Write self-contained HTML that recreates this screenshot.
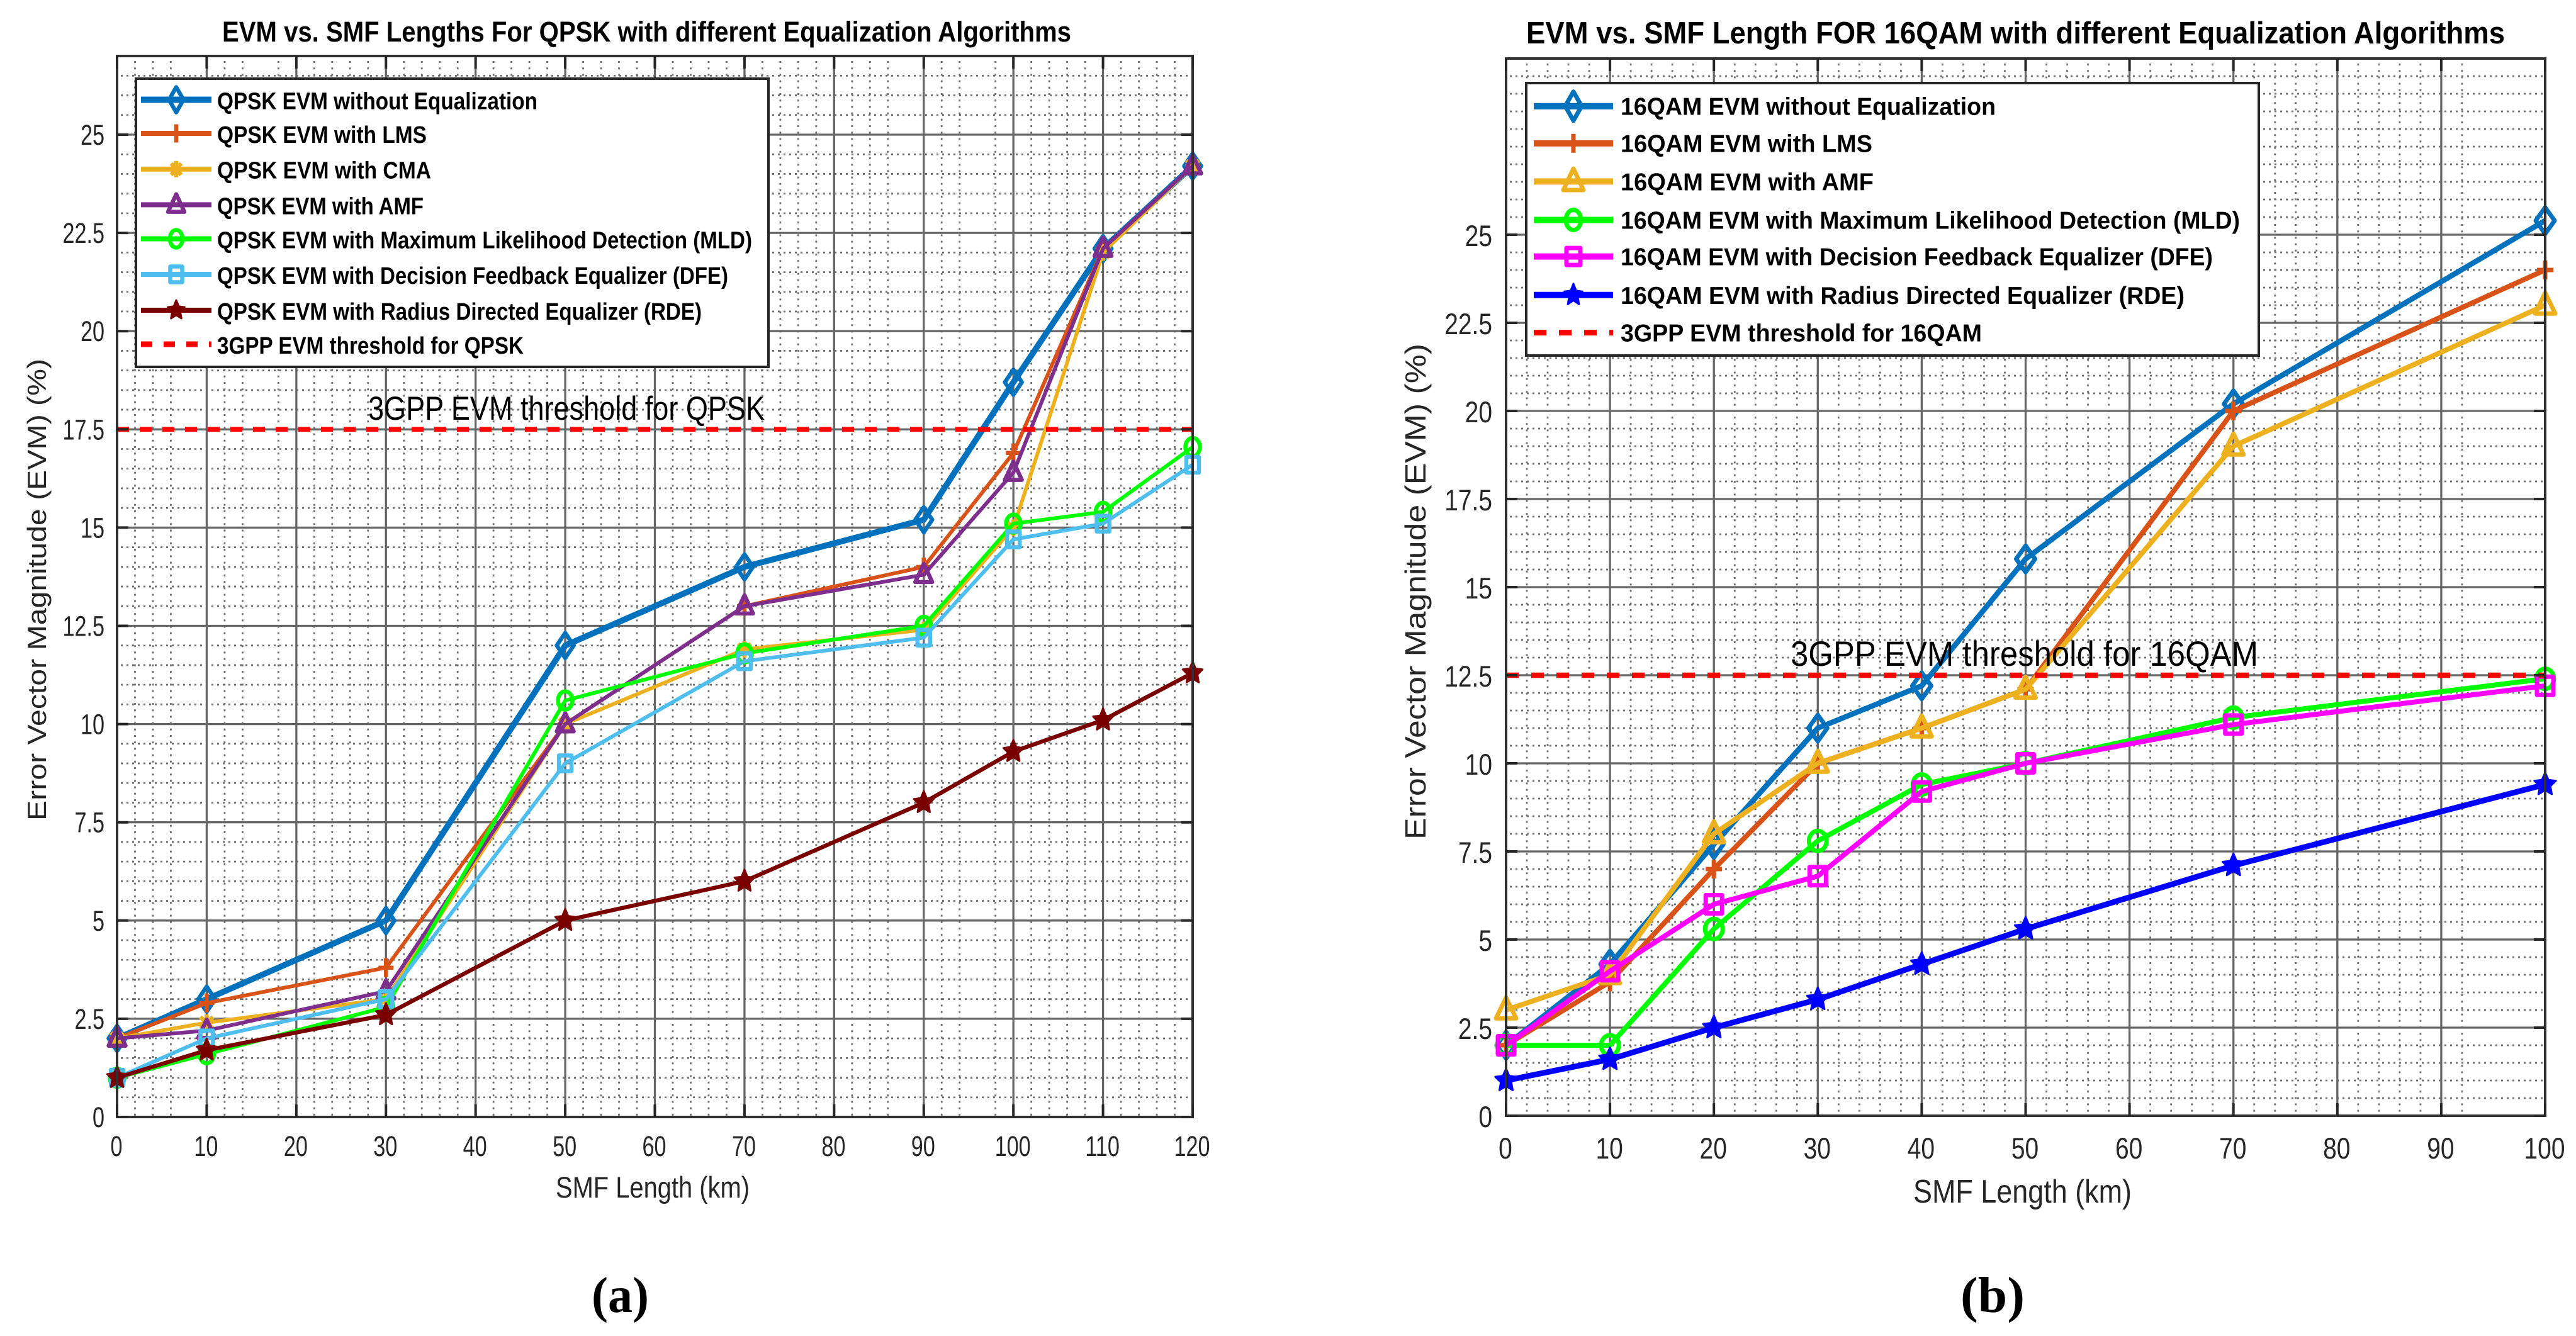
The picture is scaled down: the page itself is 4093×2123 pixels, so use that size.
<!DOCTYPE html>
<html lang="en">
<head>
<meta charset="utf-8">
<title>EVM vs. SMF Length charts</title>
<style>
  html, body { margin: 0; padding: 0; background: #fff; }
  #figure { display: block; width: 4093px; height: 2123px; font-family: "Liberation Sans", sans-serif; }
</style>
</head>
<body>
<svg id="figure" xmlns="http://www.w3.org/2000/svg" width="4093" height="2123" viewBox="0 0 4093 2123"></svg>
<script>
// ---------- Chart (a) data ----------
const qpskLengths = [0, 10, 30, 50, 70, 90, 100, 110, 120];
const qpskNoEq = [2, 3, 5, 12, 14, 15.2, 18.7, 22.1, 24.2];
const qpskLms = [2, 2.9, 3.8, 10, 13, 14, 16.9, 22.1, 24.2];
const qpskCma = [2, 2.4, 3, 10, 11.9, 12.4, 15, 22, 24.2];
const qpskAmf = [2, 2.2, 3.2, 10, 13, 13.8, 16.4, 22.1, 24.2];
const qpskMld = [1, 1.6, 2.8, 10.6, 11.8, 12.5, 15.1, 15.4, 17.05];
const qpskDfe = [1, 2, 3, 9, 11.6, 12.2, 14.7, 15.1, 16.6];
const qpskRde = [1, 1.7, 2.6, 5, 6, 8, 9.3, 10.1, 11.3];
const qpskThreshold = 17.5;
const qpskXTicks = [0, 10, 20, 30, 40, 50, 60, 70, 80, 90, 100, 110, 120];
const qpskYTicks = [0, 2.5, 5, 7.5, 10, 12.5, 15, 17.5, 20, 22.5, 25];

// ---------- Chart (b) data ----------
const qamLengths = [0, 10, 20, 30, 40, 50, 70, 100];
const qamNoEq = [2, 4.3, 7.7, 11, 12.2, 15.8, 20.2, 25.4];
const qamLms = [2, 3.8, 7, 10, 11, 12.1, 20, 24];
const qamAmf = [3, 4, 8, 10, 11, 12.1, 19, 23];
const qamMld = [2, 2, 5.3, 7.8, 9.4, 10, 11.3, 12.4];
const qamDfe = [2, 4.1, 6, 6.8, 9.2, 10, 11.1, 12.2];
const qamRde = [1, 1.6, 2.5, 3.3, 4.3, 5.3, 7.1, 9.4];
const qamThreshold = 12.5;
const qamXTicks = [0, 10, 20, 30, 40, 50, 60, 70, 80, 90, 100];
const qamYTicks = [0, 2.5, 5, 7.5, 10, 12.5, 15, 17.5, 20, 22.5, 25];

const NS = 'http://www.w3.org/2000/svg';
const root = document.getElementById('figure');

function make(parent, tag, attrs) {
  const el = document.createElementNS(NS, tag);
  for (const k in attrs) el.setAttribute(k, attrs[k]);
  parent.appendChild(el);
  return el;
}

function makeText(parent, str, x, y, size, opt) {
  opt = opt || {};
  const attrs = { x: x, y: y, 'font-size': size, fill: opt.fill || '#000' };
  if (opt.weight) attrs['font-weight'] = opt.weight;
  if (opt.anchor) attrs['text-anchor'] = opt.anchor;
  if (opt.family) attrs['font-family'] = opt.family;
  if (opt.length) { attrs.textLength = opt.length; attrs.lengthAdjust = 'spacingAndGlyphs'; }
  if (opt.rotate) attrs.transform = 'rotate(-90 ' + x + ' ' + y + ')';
  if (opt.sx) {
    attrs.x = 0; attrs.y = 0;
    attrs.transform = 'translate(' + x + ' ' + y + ') scale(' + opt.sx + ' 1)';
  }
  const el = make(parent, 'text', attrs);
  el.textContent = str;
  return el;
}

function drawMarker(parent, kind, cx, cy, size, color, sw) {
  const w = size[kind][0], h = size[kind][1];
  const common = { fill: 'none', stroke: color, 'stroke-width': sw, 'stroke-linejoin': 'round' };
  let el;
  if (kind === 'diamond') {
    el = make(parent, 'polygon', Object.assign({ points: [[0,-h/2],[w/2,0],[0,h/2],[-w/2,0]].map(p => (cx+p[0])+','+(cy+p[1])).join(' ') }, common));
  } else if (kind === 'plus') {
    el = make(parent, 'path', Object.assign({ d: 'M'+(cx-w/2)+' '+cy+'H'+(cx+w/2)+'M'+cx+' '+(cy-h/2)+'V'+(cy+h/2) }, common));
  } else if (kind === 'cross') {
    const a = w/2, b = h/2;
    el = make(parent, 'path', Object.assign({ d: 'M'+(cx-a)+' '+(cy-b*0.7)+'L'+(cx+a)+' '+(cy+b*0.7)+'M'+(cx+a)+' '+(cy-b*0.7)+'L'+(cx-a)+' '+(cy+b*0.7)+'M'+cx+' '+(cy-b)+'V'+(cy+b) }, common));
  } else if (kind === 'triangle') {
    el = make(parent, 'polygon', Object.assign({ points: cx+','+(cy-h*0.6)+' '+(cx+w/2)+','+(cy+h*0.4)+' '+(cx-w/2)+','+(cy+h*0.4) }, common));
  } else if (kind === 'circle') {
    el = make(parent, 'ellipse', Object.assign({ cx: cx, cy: cy, rx: w/2, ry: h/2 }, common));
  } else if (kind === 'square') {
    el = make(parent, 'rect', Object.assign({ x: cx-w/2, y: cy-h/2, width: w, height: h }, common));
  } else {
    const pts = [];
    for (let i = 0; i < 10; i++) {
      const r = i % 2 ? 0.48 : 1;
      const t = -Math.PI/2 + i*Math.PI/5;
      pts.push((cx + Math.cos(t)*r*w/2) + ',' + (cy + Math.sin(t)*r*h/2));
    }
    el = make(parent, 'polygon', { points: pts.join(' '), fill: color, stroke: color, 'stroke-width': 3, 'stroke-linejoin': 'round' });
  }
  return el;
}

function drawChart(c) {
  const g = make(root, 'g', {});
  
  

  const xs = v => c.left + (v - c.xMin) / (c.xMax - c.xMin) * (c.right - c.left);
  const ys = v => c.bottom - (v - c.yMin) * c.yPerUnit;

  // minor grid
  const minorGroup = make(g, 'g', { stroke: '#6e6e6e', fill: 'none' });
  
  
  for (let v = c.yMin + 0.5; ys(v) > c.top + 2; v += 0.5) {
    if (v <= 25 && Math.abs(v / 2.5 - Math.round(v / 2.5)) < 1e-6) continue;
    make(minorGroup, 'line', { x1: c.left + 6, x2: c.right, y1: ys(v), y2: ys(v), 'stroke-width': 2.8, 'stroke-dasharray': '3 6' });
  }
  for (let v = c.xMin + 2; v < c.xMax; v += 2) {
    if (v % 10 === 0 || c.skipMinorX.indexOf(v) >= 0) continue;
    make(minorGroup, 'line', { x1: xs(v), x2: xs(v), y1: c.top + 8, y2: c.bottom, 'stroke-width': 2.8, 'stroke-dasharray': '3 7.2' });
  }

  // major grid
  const majorGroup = make(g, 'g', { stroke: '#666', fill: 'none', 'stroke-width': 3.3 });
  
  
  c.xTicks.forEach(v => {
    if (v === c.xMin || v === c.xMax) return;
    make(majorGroup, 'line', { x1: xs(v), x2: xs(v), y1: c.top, y2: c.bottom });
  });
  c.yTicks.forEach(v => {
    if (v === c.yMin) return;
    make(majorGroup, 'line', { x1: c.left, x2: c.right, y1: ys(v), y2: ys(v) });
  });

  // series
  c.series.forEach(s => {
    const sg = make(g, 'g', {});
    
    
    const pts = s.values.map((v, i) => xs(c.xValues[i]) + ',' + ys(v)).join(' ');
    const pl = make(sg, 'polyline', { points: pts, fill: 'none', stroke: s.color, 'stroke-width': s.width, 'stroke-linejoin': 'round' });
    
    
    s.values.forEach((v, i) => {
      const m = drawMarker(sg, s.marker, xs(c.xValues[i]), ys(v), c.markerSize, s.color, c.markerStroke);
      
      
    });
  });

  // threshold line
  const th = make(g, 'line', { x1: c.left, x2: c.right, y1: ys(c.threshold), y2: ys(c.threshold), stroke: '#ff0000', 'stroke-width': c.thWidth, 'stroke-dasharray': c.thDash });
  
  

  // threshold annotation
  const thText = makeText(g, c.thLabel, c.thText[0], c.thText[1], c.thText[2], { length: c.thText[3] });
  
  

  // frame
  const frame = make(g, 'rect', { x: c.left, y: c.top, width: c.right - c.left, height: c.bottom - c.top, fill: 'none', stroke: '#303030', 'stroke-width': 4 });
  
  

  // ticks
  const tickGroup = make(g, 'g', { stroke: '#262626', 'stroke-width': 4 });
  
  
  c.xTicks.forEach(v => {
    make(tickGroup, 'line', { x1: xs(v), x2: xs(v), y1: c.bottom, y2: c.bottom - 20 });
    make(tickGroup, 'line', { x1: xs(v), x2: xs(v), y1: c.top, y2: c.top + 20 });
  });
  c.yTicks.forEach(v => {
    make(tickGroup, 'line', { x1: c.left, x2: c.left + 18, y1: ys(v), y2: ys(v) });
    make(tickGroup, 'line', { x1: c.right, x2: c.right - 18, y1: ys(v), y2: ys(v) });
  });

  // tick labels
  c.xTicks.forEach(v => {
    const t = makeText(g, String(v), xs(v) - 1, c.xLabelY, c.tickFont, { anchor: 'middle', sx: c.tickSx, fill: '#262626' });
    
    
  });
  c.yTicks.forEach(v => {
    const t = makeText(g, String(v), c.yLabelX, ys(v) + c.yLabelDy, c.tickFont, { anchor: 'end', sx: c.tickSx, fill: '#262626' });
    
    
  });

  // titles
  const title = makeText(g, c.title, c.titlePos[0], c.titlePos[1], c.titlePos[2], { weight: 'bold', length: c.titlePos[3] });
  
  
  const xTitle = makeText(g, 'SMF Length (km)', c.xTitlePos[0], c.xTitlePos[1], c.xTitlePos[2], { length: c.xTitlePos[3], fill: '#262626' });
  
  
  const yTitle = makeText(g, 'Error Vector Magnitude (EVM) (%)', c.yTitlePos[0], c.yTitlePos[1], c.yTitlePos[2], { length: c.yTitlePos[3], rotate: true, fill: '#262626' });
  
  

  // legend
  const L = c.legend;
  const lg = make(g, 'g', {});
  
  
  const box = make(lg, 'rect', { x: L.x, y: L.y, width: L.w, height: L.h, fill: '#fff', stroke: '#262626', 'stroke-width': 4 });
  
  
  c.series.forEach((s, i) => {
    const ly = L.rows[i];
    const ln = make(lg, 'line', { x1: L.lineX[0], x2: L.lineX[1], y1: ly, y2: ly, stroke: s.color, 'stroke-width': s.legendWidth });
    
    
    const mk = drawMarker(lg, s.marker, (L.lineX[0] + L.lineX[1]) / 2, ly, c.legendMarkerSize, s.color, c.markerStroke);
    
    
    const tx = makeText(lg, s.label, L.textX, ly + L.textDy, L.font, { weight: 'bold', length: s.labelWidth });
    
    
  });
  const last = L.rows[c.series.length];
  const dl = make(lg, 'line', { x1: L.lineX[0], x2: L.lineX[1], y1: last, y2: last, stroke: '#ff0000', 'stroke-width': 9, 'stroke-dasharray': L.dash });
  
  
  const dt = makeText(lg, c.thLabel, L.textX, last + L.textDy, L.font, { weight: 'bold', length: L.thWidth });
  
  

  // caption
  const cap = makeText(g, c.caption[0], c.caption[1], 2085, 80, { weight: 'bold', length: c.caption[2], family: '"Liberation Serif", serif' });
  
  
}

drawChart({
  id: 'qpsk', left: 186, right: 1895, top: 89, bottom: 1775,
  xMin: 0, xMax: 120, yMin: 0, yPerUnit: 62.44,
  xValues: qpskLengths, xTicks: qpskXTicks, yTicks: qpskYTicks,
  skipMinorX: [8, 16, 88, 96],
  threshold: qpskThreshold, thLabel: '3GPP EVM threshold for QPSK',
  thWidth: 7.5, thDash: '19 17', thText: [585, 667, 53, 630],
  tickFont: 45, tickSx: 0.76, xLabelY: 1837, yLabelX: 166, yLabelDy: 16,
  title: 'EVM vs. SMF Lengths For QPSK with different Equalization Algorithms',
  titlePos: [353, 66, 45, 1349],
  xTitlePos: [883, 1903, 47, 308], yTitlePos: [73, 1304, 42, 734],
  caption: ['(a)', 940, 91],
  markerStroke: 6.5,
  markerSize: { diamond: [27, 40], plus: [24, 30], cross: [20, 26], triangle: [27, 29], circle: [23, 29], square: [20, 25], star: [33, 37] },
  legendMarkerSize: { diamond: [23, 40], plus: [24, 29], cross: [16, 26], triangle: [26, 28], circle: [20, 28], square: [19, 25], star: [28, 32] },
  series: [
    { name: 'qpsk-no-equalization', label: 'QPSK EVM without Equalization', labelWidth: 509, values: qpskNoEq, color: '#0072BD', width: 9.5, legendWidth: 10, marker: 'diamond' },
    { name: 'qpsk-lms', label: 'QPSK EVM with LMS', labelWidth: 333, values: qpskLms, color: '#D95319', width: 6, legendWidth: 8, marker: 'plus' },
    { name: 'qpsk-cma', label: 'QPSK EVM with CMA', labelWidth: 340, values: qpskCma, color: '#EDB120', width: 6, legendWidth: 8, marker: 'cross' },
    { name: 'qpsk-amf', label: 'QPSK EVM with AMF', labelWidth: 328, values: qpskAmf, color: '#7E2F8E', width: 6, legendWidth: 8, marker: 'triangle' },
    { name: 'qpsk-mld', label: 'QPSK EVM with Maximum Likelihood Detection (MLD)', labelWidth: 850, values: qpskMld, color: '#00FF00', width: 6, legendWidth: 8, marker: 'circle' },
    { name: 'qpsk-dfe', label: 'QPSK EVM with Decision Feedback Equalizer (DFE)', labelWidth: 812, values: qpskDfe, color: '#4DBEEE', width: 6, legendWidth: 8, marker: 'square' },
    { name: 'qpsk-rde', label: 'QPSK EVM with Radius Directed Equalizer (RDE)', labelWidth: 770, values: qpskRde, color: '#7A0000', width: 6.5, legendWidth: 8, marker: 'star' }
  ],
  legend: {
    x: 216, y: 125, w: 1005, h: 458, font: 38, textX: 345, textDy: 15,
    lineX: [224, 336], dash: '18 18', thWidth: 487,
    rows: [158.5, 212, 268.7, 325.4, 379.5, 436, 493, 547]
  }
});

drawChart({
  id: 'qam', left: 2393, right: 4044, top: 93, bottom: 1773,
  xMin: 0, xMax: 100, yMin: 0, yPerUnit: 56,
  xValues: qamLengths, xTicks: qamXTicks, yTicks: qamYTicks,
  skipMinorX: [94, 96, 98],
  threshold: qamThreshold, thLabel: '3GPP EVM threshold for 16QAM',
  thWidth: 8.5, thDash: '20 20', thText: [2845, 1058, 56, 743],
  tickFont: 47.5, tickSx: 0.82, xLabelY: 1841, yLabelX: 2371, yLabelDy: 18,
  title: 'EVM vs. SMF Length FOR 16QAM with different Equalization Algorithms',
  titlePos: [2425, 69, 49, 1555],
  xTitlePos: [3040, 1911, 52, 347], yTitlePos: [2265, 1334, 46, 788],
  caption: ['(b)', 3115, 102],
  markerStroke: 7,
  markerSize: { diamond: [30, 42], plus: [26, 30], triangle: [32, 33], circle: [28, 32], square: [26, 29], star: [36, 38] },
  legendMarkerSize: { diamond: [26, 46], plus: [26, 30], triangle: [32, 34], circle: [24, 32], square: [22, 27], star: [30, 36] },
  series: [
    { name: 'qam-no-equalization', label: '16QAM EVM without Equalization', labelWidth: 596, values: qamNoEq, color: '#0072BD', width: 8.5, legendWidth: 10, marker: 'diamond' },
    { name: 'qam-lms', label: '16QAM EVM with LMS', labelWidth: 400, values: qamLms, color: '#D95319', width: 8, legendWidth: 10, marker: 'plus' },
    { name: 'qam-amf', label: '16QAM EVM with AMF', labelWidth: 402, values: qamAmf, color: '#EDB120', width: 8, legendWidth: 10, marker: 'triangle' },
    { name: 'qam-mld', label: '16QAM EVM with Maximum Likelihood Detection (MLD)', labelWidth: 984, values: qamMld, color: '#00FF00', width: 8, legendWidth: 10, marker: 'circle' },
    { name: 'qam-dfe', label: '16QAM EVM with Decision Feedback Equalizer (DFE)', labelWidth: 941, values: qamDfe, color: '#FF00FF', width: 8, legendWidth: 10, marker: 'square' },
    { name: 'qam-rde', label: '16QAM EVM with Radius Directed Equalizer (RDE)', labelWidth: 896, values: qamRde, color: '#0000FF', width: 9, legendWidth: 10, marker: 'star' }
  ],
  legend: {
    x: 2425, y: 132, w: 1164, h: 433, font: 39, textX: 2575, textDy: 14,
    lineX: [2437, 2563], dash: '20 20', thWidth: 574,
    rows: [168.7, 227.7, 288.4, 349.5, 407.6, 468.8, 528.6]
  }
});
</script>
</body>
</html>
